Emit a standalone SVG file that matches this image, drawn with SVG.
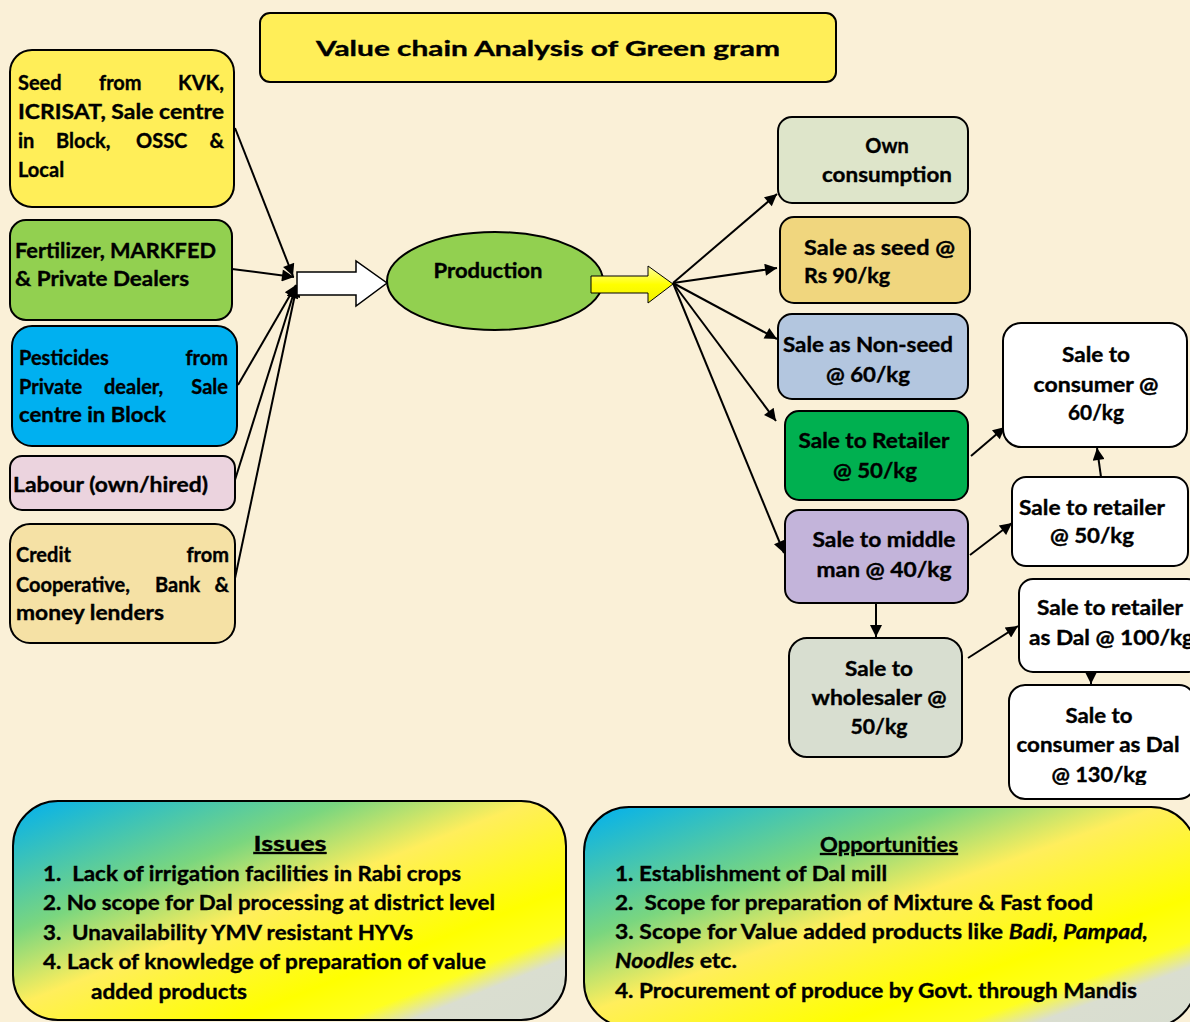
<svg xmlns="http://www.w3.org/2000/svg" width="1190" height="1022" viewBox="0 0 1190 1022">
<defs>
<style>
.t{font-family:Lato,"Open Sans","Liberation Sans",sans-serif;font-weight:bold;font-size:20px;fill:#000;stroke:#000;stroke-width:0.35px}
.bx{stroke:#000;stroke-width:2}
.c{stroke:#000;stroke-width:2;fill:none;marker-end:url(#ah)}
.m{text-anchor:middle}
.e{text-anchor:end}
.li{font-size:21px}
</style>
<marker id="ah" viewBox="0 0 10 10" refX="10" refY="5" markerWidth="15" markerHeight="12" markerUnits="userSpaceOnUse" orient="auto"><path d="M0,0 L10,5 L0,10 z" fill="#000"/></marker>
<linearGradient id="grad" x1="0" y1="0" x2="1" y2="1">
<stop offset="0" stop-color="#00B0F0"/>
<stop offset="0.3" stop-color="#7AD67F"/>
<stop offset="0.47" stop-color="#FFEE5C"/>
<stop offset="0.7" stop-color="#FFFF00"/>
<stop offset="0.8" stop-color="#FFFF20"/>
<stop offset="0.86" stop-color="#DADED0"/>
<stop offset="1" stop-color="#D8DDD0"/>
</linearGradient>
<linearGradient id="yarrow" x1="0" y1="0" x2="0" y2="1">
<stop offset="0" stop-color="#FFFFA0"/>
<stop offset="0.5" stop-color="#FFFF00"/>
<stop offset="1" stop-color="#F0F000"/>
</linearGradient>
<clipPath id="clipDal"><rect x="1000" y="680" width="200" height="105"/></clipPath>
</defs>
<rect width="1190" height="1022" fill="#FAF0D7"/>

<g id="title">
<rect class="bx" x="260" y="13" width="576" height="69" rx="10" fill="#FFEE58"/>
<text class="t" x="548" y="56" text-anchor="middle" font-size="27" textLength="464" lengthAdjust="spacingAndGlyphs">Value chain Analysis of Green gram</text>
</g>

<g id="connectors">
<path class="c" d="M235,128 L293,276"/>
<path class="c" d="M232,269 L294,277"/>
<path class="c" d="M238,385 L296,285"/>
<path class="c" d="M234,483 L296,286"/>
<path class="c" d="M234,583 L297,285"/>
<path d="M297,272 L356,272 L356,261 L387,283 L356,306 L356,295 L297,295 Z" fill="#fff" stroke="#000" stroke-width="1.5"/>
<path class="c" d="M673,283 L777,194"/>
<path class="c" d="M673,283 L777,268"/>
<path class="c" d="M673,283 L777,339"/>
<path class="c" d="M673,283 L776,421"/>
<path class="c" d="M673,283 L784,553"/>
<path class="c" d="M971,456 L1005,427"/>
<path class="c" d="M970,555 L1012,523"/>
<path class="c" d="M1101,477 L1097,448"/>
<path class="c" d="M876,603 L876,637"/>
<path class="c" d="M968,658 L1018,626"/>
<path class="c" d="M1091,663 L1091,684"/>
</g>

<g id="seed">
<rect class="bx" x="10" y="50" width="224" height="157" rx="22" fill="#FFEE58"/>
<text class="t" x="18" y="90">Seed</text><text class="t" x="99" y="90">from</text><text class="t e" x="224" y="90">KVK,</text>
<text class="t" x="18" y="119" textLength="206" lengthAdjust="spacingAndGlyphs">ICRISAT, Sale centre</text>
<text class="t" x="18" y="148">in</text><text class="t" x="56" y="148">Block,</text><text class="t" x="136" y="148">OSSC</text><text class="t e" x="224" y="148">&amp;</text>
<text class="t" x="18" y="177">Local</text>
</g>

<g id="fertilizer">
<rect class="bx" x="10" y="220" width="222" height="100" rx="16" fill="#92D050"/>
<text class="t" x="15" y="258" textLength="201" lengthAdjust="spacingAndGlyphs">Fertilizer, MARKFED</text>
<text class="t" x="15" y="286" textLength="174" lengthAdjust="spacingAndGlyphs">&amp; Private Dealers</text>
</g>

<g id="pesticides">
<rect class="bx" x="12" y="326" width="225" height="120" rx="20" fill="#00B0F0"/>
<text class="t" x="19" y="365">Pesticides</text><text class="t e" x="228" y="365">from</text>
<text class="t" x="19" y="394">Private</text><text class="t" x="104" y="394">dealer,</text><text class="t e" x="228" y="394">Sale</text>
<text class="t" x="19" y="422" textLength="147" lengthAdjust="spacingAndGlyphs">centre in Block</text>
</g>

<g id="labour">
<rect class="bx" x="10" y="456" width="225" height="54" rx="12" fill="#EBD3DE"/>
<text class="t" x="13" y="492" textLength="195" lengthAdjust="spacingAndGlyphs">Labour (own/hired)</text>
</g>

<g id="credit">
<rect class="bx" x="10" y="524" width="225" height="119" rx="20" fill="#F5E1A5"/>
<text class="t" x="16" y="562">Credit</text><text class="t e" x="229" y="562">from</text>
<text class="t" x="16" y="592">Cooperative,</text><text class="t" x="155" y="592">Bank</text><text class="t e" x="229" y="592">&amp;</text>
<text class="t" x="16" y="620" textLength="148" lengthAdjust="spacingAndGlyphs">money lenders</text>
</g>

<g id="production">
<ellipse class="bx" cx="495" cy="281" rx="108" ry="49" fill="#92D050"/>
<text class="t m" x="488" y="278" textLength="109" lengthAdjust="spacingAndGlyphs">Production</text>
<path d="M591,276 L648,276 L648,266 L673,284 L648,303 L648,293 L591,293 Z" fill="url(#yarrow)" stroke="#000" stroke-width="1"/>
</g>

<g id="own">
<rect class="bx" x="778" y="117" width="190" height="86" rx="14" fill="#DEE5CA"/>
<text class="t m" x="887" y="153">Own</text>
<text class="t m" x="887" y="182" textLength="130" lengthAdjust="spacingAndGlyphs">consumption</text>
</g>

<g id="saleseed">
<rect class="bx" x="780" y="217" width="190" height="86" rx="14" fill="#F0D67E"/>
<text class="t" x="804" y="255" textLength="151" lengthAdjust="spacingAndGlyphs">Sale as seed @</text>
<text class="t" x="804" y="283" textLength="86" lengthAdjust="spacingAndGlyphs">Rs 90/kg</text>
</g>

<g id="nonseed">
<rect class="bx" x="778" y="314" width="190" height="85" rx="14" fill="#B3C6DF"/>
<text class="t m" x="868" y="352" textLength="170" lengthAdjust="spacingAndGlyphs">Sale as Non-seed</text>
<text class="t m" x="868" y="382" textLength="84" lengthAdjust="spacingAndGlyphs">@ 60/kg</text>
</g>

<g id="retailer">
<rect class="bx" x="785" y="411" width="183" height="89" rx="14" fill="#00B050"/>
<text class="t m" x="874" y="448" textLength="151" lengthAdjust="spacingAndGlyphs">Sale to Retailer</text>
<text class="t m" x="875" y="478" textLength="84" lengthAdjust="spacingAndGlyphs">@ 50/kg</text>
</g>

<g id="middleman">
<rect class="bx" x="785" y="510" width="183" height="93" rx="14" fill="#C3B4DA"/>
<text class="t m" x="884" y="547" textLength="143" lengthAdjust="spacingAndGlyphs">Sale to middle</text>
<text class="t m" x="884" y="577" textLength="135" lengthAdjust="spacingAndGlyphs">man @ 40/kg</text>
</g>

<g id="wholesaler">
<rect class="bx" x="789" y="638" width="173" height="119" rx="18" fill="#D8DED0"/>
<text class="t m" x="879" y="676" textLength="68" lengthAdjust="spacingAndGlyphs">Sale to</text>
<text class="t m" x="879" y="705" textLength="135" lengthAdjust="spacingAndGlyphs">wholesaler @</text>
<text class="t m" x="879" y="734" textLength="57" lengthAdjust="spacingAndGlyphs">50/kg</text>
</g>

<g id="consumer60">
<rect class="bx" x="1003" y="323" width="184" height="124" rx="18" fill="#fff"/>
<text class="t m" x="1096" y="362" textLength="68" lengthAdjust="spacingAndGlyphs">Sale to</text>
<text class="t m" x="1096" y="392" textLength="125" lengthAdjust="spacingAndGlyphs">consumer @</text>
<text class="t m" x="1096" y="420" textLength="56" lengthAdjust="spacingAndGlyphs">60/kg</text>
</g>

<g id="retailer50">
<rect class="bx" x="1012" y="477" width="176" height="89" rx="14" fill="#fff"/>
<text class="t" x="1019" y="515" textLength="146" lengthAdjust="spacingAndGlyphs">Sale to retailer</text>
<text class="t m" x="1092" y="543" textLength="84" lengthAdjust="spacingAndGlyphs">@ 50/kg</text>
</g>

<g id="retailerdal">
<rect class="bx" x="1019" y="579" width="182" height="93" rx="14" fill="#fff"/>
<text class="t" x="1037" y="615" textLength="146" lengthAdjust="spacingAndGlyphs">Sale to retailer</text>
<text class="t" x="1029" y="645" textLength="165" lengthAdjust="spacingAndGlyphs">as Dal @ 100/kg</text>
</g>

<g id="consumerdal">
<rect class="bx" x="1009" y="685" width="186" height="114" rx="16" fill="#fff"/>
<text class="t m" x="1099" y="723" textLength="67" lengthAdjust="spacingAndGlyphs">Sale to</text>
<text class="t m" x="1098" y="752" textLength="163" lengthAdjust="spacingAndGlyphs">consumer as Dal</text>
<text class="t m" x="1099" y="782" clip-path="url(#clipDal)" textLength="95" lengthAdjust="spacingAndGlyphs">@ 130/kg</text>
</g>

<g id="issues">
<rect class="bx" x="13" y="801" width="553" height="219" rx="45" fill="url(#grad)"/>
<text class="t m" x="290" y="851" font-size="25" text-decoration="underline" textLength="73" lengthAdjust="spacingAndGlyphs">Issues</text>
<text class="t li" x="43" y="881" textLength="418" lengthAdjust="spacingAndGlyphs" xml:space="preserve">1.  Lack of irrigation facilities in Rabi crops</text>
<text class="t li" x="43" y="910" textLength="452" lengthAdjust="spacingAndGlyphs">2. No scope for Dal processing at district level</text>
<text class="t li" x="43" y="940" textLength="370" lengthAdjust="spacingAndGlyphs" xml:space="preserve">3.  Unavailability YMV resistant HYVs</text>
<text class="t li" x="43" y="969" textLength="443" lengthAdjust="spacingAndGlyphs">4. Lack of knowledge of preparation of value</text>
<text class="t li" x="91" y="999" textLength="156" lengthAdjust="spacingAndGlyphs">added products</text>
</g>

<g id="opportunities">
<rect class="bx" x="584" y="807" width="612" height="220" rx="45" fill="url(#grad)"/>
<text class="t m" x="889" y="852" text-decoration="underline" textLength="138" lengthAdjust="spacingAndGlyphs">Opportunities</text>
<text class="t li" x="615" y="881" textLength="272" lengthAdjust="spacingAndGlyphs">1. Establishment of Dal mill</text>
<text class="t li" x="615" y="910" textLength="478" lengthAdjust="spacingAndGlyphs" xml:space="preserve">2.  Scope for preparation of Mixture &amp; Fast food</text>
<text class="t li" x="615" y="939" textLength="533" lengthAdjust="spacingAndGlyphs">3. Scope for Value added products like <tspan font-style="italic">Badi, Pampad,</tspan></text>
<text class="t li" x="615" y="968" textLength="122" lengthAdjust="spacingAndGlyphs"><tspan font-style="italic">Noodles</tspan> etc.</text>
<text class="t li" x="615" y="998" textLength="522" lengthAdjust="spacingAndGlyphs">4. Procurement of produce by Govt. through Mandis</text>
</g>
</svg>
